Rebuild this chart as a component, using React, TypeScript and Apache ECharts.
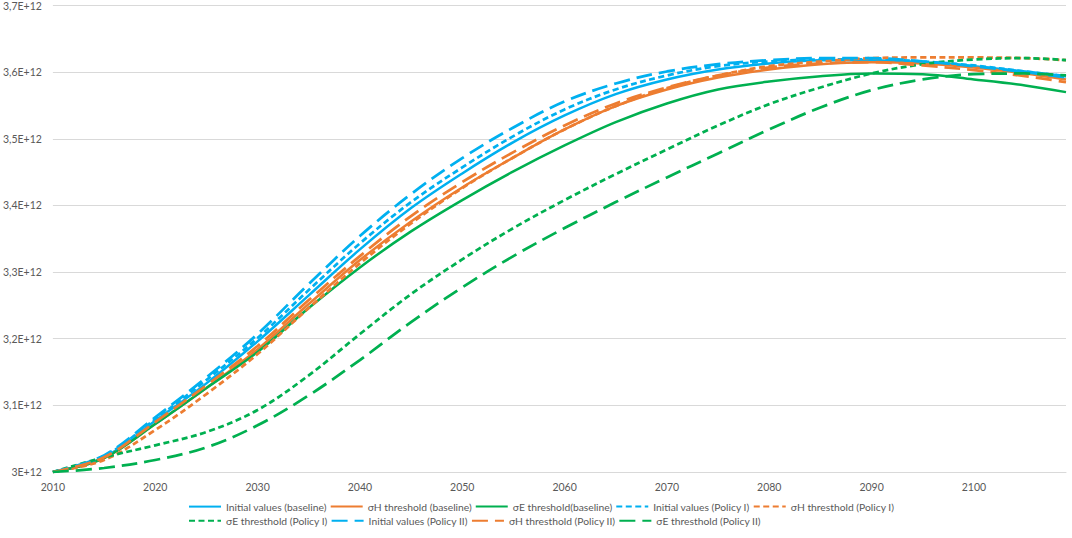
import React, { useEffect, useRef } from "react";
import * as echarts from "echarts";

// Years sampled (x values)
const years = [2010, 2015, 2020, 2025, 2030, 2035, 2040, 2045, 2050, 2055, 2060, 2065, 2070, 2075, 2080, 2085, 2090, 2095, 2100, 2105, 2109];

// Values in units of 1E+12
const initialBaseline = [3.0, 3.022, 3.077, 3.133, 3.196, 3.265, 3.334, 3.396, 3.448, 3.495, 3.535, 3.567, 3.589, 3.604, 3.613, 3.618, 3.618, 3.615, 3.609, 3.601, 3.594];
const sigmaHBaseline = [3.0, 3.021, 3.072, 3.126, 3.184, 3.252, 3.318, 3.376, 3.427, 3.472, 3.514, 3.549, 3.574, 3.592, 3.604, 3.612, 3.615, 3.613, 3.607, 3.598, 3.589];
const sigmaEBaseline = [3.0, 3.021, 3.072, 3.126, 3.180, 3.246, 3.307, 3.361, 3.408, 3.451, 3.490, 3.525, 3.553, 3.574, 3.586, 3.594, 3.598, 3.597, 3.589, 3.580, 3.570];
const initialPolicyI = [3.0, 3.024, 3.079, 3.138, 3.201, 3.273, 3.343, 3.405, 3.457, 3.504, 3.544, 3.574, 3.595, 3.609, 3.616, 3.619, 3.619, 3.616, 3.610, 3.601, 3.594];
const sigmaHPolicyI = [3.0, 3.018, 3.063, 3.117, 3.177, 3.246, 3.313, 3.373, 3.426, 3.472, 3.514, 3.549, 3.576, 3.595, 3.609, 3.616, 3.621, 3.622, 3.622, 3.621, 3.618];
const sigmaEPolicyI = [3.0, 3.022, 3.040, 3.060, 3.093, 3.145, 3.207, 3.267, 3.319, 3.366, 3.408, 3.447, 3.484, 3.520, 3.552, 3.577, 3.598, 3.612, 3.619, 3.621, 3.618];
const initialPolicyII = [3.0, 3.025, 3.082, 3.142, 3.207, 3.282, 3.354, 3.417, 3.471, 3.517, 3.556, 3.583, 3.601, 3.612, 3.618, 3.621, 3.621, 3.616, 3.609, 3.600, 3.592];
const sigmaHPolicyII = [3.0, 3.022, 3.075, 3.130, 3.189, 3.258, 3.324, 3.384, 3.435, 3.480, 3.520, 3.553, 3.577, 3.595, 3.607, 3.613, 3.615, 3.610, 3.603, 3.594, 3.585];
const sigmaEPolicyII = [3.0, 3.006, 3.018, 3.037, 3.070, 3.115, 3.168, 3.225, 3.277, 3.324, 3.366, 3.405, 3.442, 3.478, 3.514, 3.547, 3.573, 3.589, 3.597, 3.598, 3.595];

const names = [
  "Initial values (baseline)",
  "σH threshold (baseline)",
  "σE threshold(baseline)",
  "Initial values (Policy I)",
  "σH thresthold (Policy I)",
  "σE thresthold (Policy I)",
  "Initial values (Policy II)",
  "σH thresthold (Policy II)",
  "σE thresthold (Policy II)",
];

const BLUE = "#00B0F0";
const ORANGE = "#ED7D31";
const GREEN = "#00B050";

export default function App() {
  const ref = useRef<HTMLDivElement>(null);

  useEffect(() => {
    if (!ref.current) return;
    const chart = echarts.init(ref.current, undefined, { renderer: "svg" });
    const all = [
      initialBaseline, sigmaHBaseline, sigmaEBaseline,
      initialPolicyI, sigmaHPolicyI, sigmaEPolicyI,
      initialPolicyII, sigmaHPolicyII, sigmaEPolicyII,
    ];
    const colors = [BLUE, ORANGE, GREEN, BLUE, ORANGE, GREEN, BLUE, ORANGE, GREEN];
    const dashes: any[] = ["solid", "solid", "solid", [6, 3.5], [6, 3.5], [6, 3.5], [16, 7], [16, 7], [16, 7]];
    const widths = [2.5, 2.5, 2.5, 2.75, 2.75, 2.75, 2.75, 2.75, 2.75];
    const font = "Lato, 'Open Sans', sans-serif";

    const series = all.map((arr, i) => ({
      name: names[i],
      type: "line",
      smooth: 0.35,
      symbol: "circle",
      showSymbol: false,
      data: years.map((y, j) => [y, arr[j]]),
      lineStyle: { color: colors[i], width: widths[i], type: dashes[i] },
      itemStyle: { color: colors[i] },
    }));

    chart.setOption({
      animation: false,
      backgroundColor: "#ffffff",
      grid: { left: 49, right: 6, top: 5, bottom: 66, containLabel: false },
      xAxis: {
        type: "value",
        min: 2010,
        max: 2109,
        interval: 10,
        splitLine: { show: false },
        axisTick: { show: false },
        axisLine: { show: true, lineStyle: { color: "#d9d9d9", width: 1 } },
        axisLabel: {
          showMaxLabel: false,
          margin: 9,
          color: "#595959",
          fontSize: 10.5,
          fontFamily: font,
          formatter: (v: number) => (v % 10 === 0 ? String(v) : ""),
        },
      },
      yAxis: {
        type: "value",
        min: 3,
        max: 3.7,
        interval: 0.1,
        axisLine: { show: false },
        axisTick: { show: false },
        splitLine: { lineStyle: { color: "#d9d9d9", width: 1 } },
        axisLabel: {
          margin: 11,
          color: "#595959",
          fontSize: 10.5,
          fontFamily: font,
          formatter: (v: number) => {
            const r = Math.round(v * 10) / 10;
            return String(r).replace(".", ",") + "E+12";
          },
        },
      },
      legend: {
        left: 188,
        top: 501,
        width: 740,
        itemWidth: 32,
        itemHeight: 14,
        itemGap: 3,
        padding: 0,
        itemStyle: { opacity: 0 },
        textStyle: { color: "#595959", fontSize: 10.3, fontFamily: font },
        data: names,
      },
      series,
    });
    return () => chart.dispose();
  }, []);

  return (
    <div
      ref={ref}
      style={{ position: "absolute", left: 0, top: 0, width: 1072, height: 538 }}
    />
  );
}
